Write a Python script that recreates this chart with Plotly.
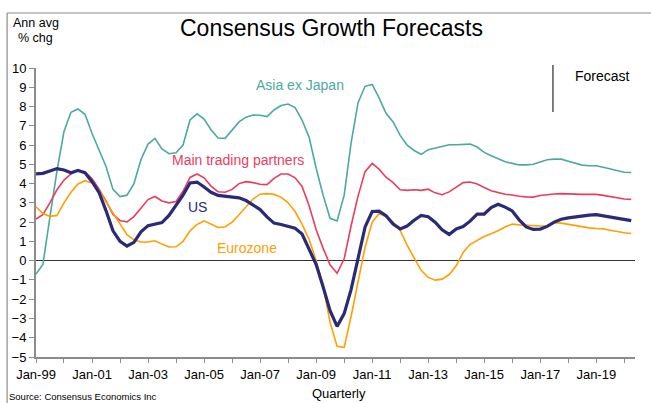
import pandas as pd
import plotly.graph_objects as go

# ---------------- data ----------------
quarters = pd.date_range("1999-01-01", periods=86, freq="QS").strftime("%Y-%m-%d").tolist()

asia_ex_japan = [-0.7, -0.2, 2.25, 4.65, 6.7, 7.7, 7.87, 7.6, 6.6, 5.72,
                 4.9, 3.7, 3.33, 3.4, 4.0, 5.25, 6.05, 6.35, 5.8, 5.55,
                 5.6, 6.0, 7.3, 7.62, 7.35, 6.8, 6.37, 6.35, 6.8, 7.2,
                 7.45, 7.56, 7.55, 7.48, 7.82, 8.05, 8.13, 7.95, 7.3, 6.4,
                 4.8, 3.4, 2.2, 2.06, 3.4, 6.1, 8.2, 9.05, 9.15, 8.45,
                 7.65, 7.2, 6.5, 6.0, 5.72, 5.52, 5.76, 5.84, 5.9, 6.02,
                 6.02, 6.04, 6.05, 5.9, 5.62, 5.45, 5.28, 5.13, 5.05, 4.97,
                 4.97, 5.0, 5.12, 5.24, 5.27, 5.27, 5.16, 5.06, 4.96, 4.93,
                 4.93, 4.85, 4.76, 4.66, 4.59, 4.58]

main_trading_partners = [2.16, 2.39, 3.0, 3.68, 4.18, 4.5, 4.69, 4.62, 4.25, 3.72,
                         3.1, 2.4, 2.08, 2.01, 2.29, 2.75, 3.17, 3.33, 3.1, 3.0,
                         3.07, 3.6, 4.32, 4.5, 4.3, 3.87, 3.58, 3.55, 3.7, 4.0,
                         4.1, 4.05, 3.97, 3.95, 4.27, 4.5, 4.5, 4.3, 3.85, 2.85,
                         1.6, 0.65, -0.21, -0.66, 0.1, 1.8, 3.35, 4.62, 5.05, 4.75,
                         4.33, 4.05, 3.68, 3.65, 3.68, 3.65, 3.71, 3.52, 3.42, 3.57,
                         3.83, 4.05, 4.08, 3.98, 3.8, 3.63, 3.54, 3.45, 3.41, 3.34,
                         3.31, 3.3, 3.38, 3.43, 3.46, 3.48, 3.46, 3.44, 3.44, 3.44,
                         3.44, 3.39, 3.32, 3.25, 3.2, 3.18]

us = [4.5, 4.53, 4.65, 4.78, 4.71, 4.56, 4.68, 4.56, 4.1, 3.55,
      2.6, 1.55, 1.0, 0.76, 0.95, 1.5, 1.82, 1.88, 1.98, 2.35,
      2.85, 3.4, 4.03, 4.08, 3.82, 3.55, 3.39, 3.35, 3.34, 3.26,
      3.12, 2.9, 2.65, 2.27, 1.95, 1.88, 1.8, 1.68, 1.38, 0.62,
      -0.2, -1.35, -2.6, -3.41, -2.75, -1.5, 0.2, 1.75, 2.55, 2.57,
      2.33, 1.9, 1.65, 1.8, 2.1, 2.35, 2.28, 2.0, 1.6, 1.36,
      1.65, 1.77, 2.05, 2.42, 2.42, 2.75, 2.93, 2.78, 2.58, 2.12,
      1.75, 1.62, 1.64, 1.78, 2.0, 2.15, 2.22, 2.28, 2.33, 2.36,
      2.39, 2.33, 2.24, 2.17, 2.12, 2.08]

eurozone = [2.8, 2.45, 2.3, 2.35, 3.0, 3.55, 3.98, 4.15, 4.03, 3.68,
            3.05, 2.5, 1.9, 1.35, 1.08, 0.97, 0.97, 1.03, 0.86, 0.71,
            0.72, 1.0, 1.55, 1.88, 2.07, 1.88, 1.72, 1.75, 2.0, 2.38,
            2.8, 3.2, 3.45, 3.48, 3.44, 3.3, 3.0, 2.55, 1.9, 1.1,
            0.0, -1.3, -3.2, -4.45, -4.5, -2.9, -1.1, 0.7, 2.0, 2.45,
            2.28, 2.0, 1.57, 0.8, 0.14, -0.5, -0.87, -1.01, -0.96, -0.72,
            -0.27, 0.42, 0.85, 1.07, 1.25, 1.4, 1.55, 1.75, 1.9, 1.86,
            1.83, 1.8, 1.8, 1.8, 1.97, 1.95, 1.88, 1.82, 1.75, 1.7,
            1.67, 1.65, 1.58, 1.5, 1.45, 1.41]

x_tick_dates = [f"{y}-01-01" for y in range(1999, 2021)]
x_tick_labels = ["Jan-99", "", "Jan-01", "", "Jan-03", "", "Jan-05", "", "Jan-07", "",
                 "Jan-09", "", "Jan-11", "", "Jan-13", "", "Jan-15", "", "Jan-17", "",
                 "Jan-19", ""]
y_ticks = list(range(-5, 11))
forecast_start = "2017-06-15"

# ---------------- styling ----------------
FONT = "Liberation Sans, Arial, sans-serif"
C_ASIA = "#4BAAA0"
C_MAIN = "#EB3C5F"
C_US = "#2B2A78"
C_EURO = "#FFA000"
AXIS = "#8C8C8C"

W, H = 651, 403
L, R, T, B = 34, 16, 68, 46
PW, PH = W - L - R, H - T - B


def px(x):
    return (x - L) / PW


def py(y):
    return (H - B - y) / PH


fig = go.Figure()
for name, vals, col, wd in [
    ("Asia ex Japan", asia_ex_japan, C_ASIA, 1.6),
    ("Main trading partners", main_trading_partners, C_MAIN, 1.6),
    ("Eurozone", eurozone, C_EURO, 1.6),
    ("US", us, C_US, 3.2),
]:
    fig.add_trace(go.Scatter(x=quarters, y=vals, mode="lines", name=name,
                             line=dict(color=col, width=wd), showlegend=False,
                             hoverinfo="skip"))

fig.update_layout(
    width=W, height=H, autosize=False,
    margin=dict(l=L, r=R, t=T, b=B, pad=0),
    paper_bgcolor="white", plot_bgcolor="white",
    font=dict(family=FONT, size=13, color="black"),
    showlegend=False,
    xaxis=dict(type="date", range=["1999-01-01", "2020-05-20"],
               tickmode="array", tickvals=x_tick_dates, ticktext=x_tick_labels,
               ticks="outside", ticklen=4, tickwidth=1.3, tickcolor=AXIS,
               showline=True, linecolor=AXIS, linewidth=2,
               showgrid=False, zeroline=False,
               tickfont=dict(size=13, color="black")),
    yaxis=dict(range=[-5, 10], tickmode="array", tickvals=y_ticks,
               ticks="outside", ticklen=5, tickwidth=1.3, tickcolor=AXIS,
               showline=True, linecolor=AXIS, linewidth=2,
               showgrid=False, zeroline=True, zerolinecolor="#333333",
               zerolinewidth=1.2,
               tickfont=dict(size=13, color="black")),
)

ann = []


def add_text(text, x, y, size, color="black", xanchor="center", yanchor="middle"):
    ann.append(dict(text=text, x=px(x), y=py(y), xref="paper", yref="paper",
                    showarrow=False, xanchor=xanchor, yanchor=yanchor,
                    font=dict(size=size, color=color, family=FONT)))


add_text("Consensus Growth Forecasts", 330, 28, 23)
add_text("Ann avg", 9, 23, 12.5, xanchor="left")
add_text("% chg", 14, 38, 12.5, xanchor="left")
add_text("Asia ex Japan", 298.5, 85, 14, C_ASIA)
add_text("Main trading partners", 237, 160, 14, C_MAIN)
add_text("US", 196.5, 207, 14, C_US)
add_text("Eurozone", 246, 248, 14, C_EURO)
add_text("Forecast", 602, 76, 14)
add_text("Quarterly", 338, 393, 13)
add_text("Source: Consensus Economics Inc", 5, 396.5, 9.5, xanchor="left")
fig.update_layout(annotations=ann)

shapes = [
    # forecast divider
    dict(type="line", xref="x", yref="paper", x0=forecast_start, x1=forecast_start,
         y0=py(65), y1=py(112), line=dict(color="#555555", width=1.5)),
    # outer frame (left and top)
    dict(type="line", xref="paper", yref="paper", x0=px(5), x1=px(5),
         y0=py(13), y1=py(410), line=dict(color="#8C8C8C", width=1.2)),
    dict(type="line", xref="paper", yref="paper", x0=px(5), x1=px(660),
         y0=py(13), y1=py(13), line=dict(color="#8C8C8C", width=1.2)),
]
fig.update_layout(shapes=shapes)

fig.write_html("out.html")
